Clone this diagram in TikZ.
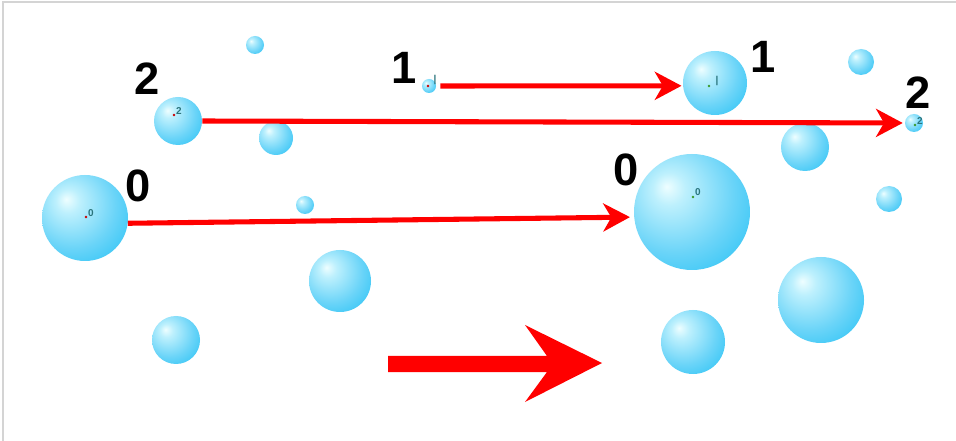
\documentclass[tikz,border=0pt]{standalone}
\usepackage{fontspec}
\setmainfont{Liberation Sans}
\usetikzlibrary{arrows.meta}
\definecolor{bubA}{HTML}{EEFEFF}
\definecolor{bubB}{HTML}{BDF0FD}
\definecolor{bubM}{HTML}{6AD4F8}
\definecolor{bubC}{HTML}{1ABEF4}
\definecolor{tinyc}{HTML}{2A747C}
\definecolor{dotgreen}{HTML}{3A9A2A}
\definecolor{framegray}{HTML}{D4D4D4}
\pgfdeclareradialshading{bubble}{\pgfpoint{-11bp}{11bp}}{color(0bp)=(bubA);color(7bp)=(bubB);color(25bp)=(bubM);color(44bp)=(bubC);color(72bp)=(bubC)}
\begin{document}
\begin{tikzpicture}[x=0.75pt,y=-0.75pt,
  bub/.style={circle, inner sep=0pt, minimum size=#1*1.5pt, shade, shading=bubble},
  big/.style={font=\fontsize{34}{34}\selectfont\bfseries, inner sep=0pt},
  tinylab/.style={font=\fontsize{7.5}{7.5}\selectfont\bfseries, text=tinyc, inner sep=0pt},
  dotred/.style={circle, fill=red!80!black, inner sep=0pt, minimum size=2pt},
  dotgrn/.style={circle, fill=dotgreen, inner sep=0pt, minimum size=2pt},
  flow/.style={draw=red, line width=3.8pt, -{Stealth[length=20pt,width=21pt,inset=6pt]}}]
\useasboundingbox (0,0) rectangle (956,441);
\fill[white] (0,0) rectangle (956,441);
\draw[framegray, line width=1.5pt] (2.5,441) -- (2.5,2.5) -- (956,2.5);
% bubbles
\node[bub=9]  (b1)  at (255,45) {};
\node[bub=7]  (b1L) at (429,86) {};
\node[bub=32] (b1R) at (715,83) {};
\node[bub=13] (b4)  at (861,62) {};
\node[bub=24] (b2L) at (178,121) {};
\node[bub=17] (b6)  at (276,138) {};
\node[bub=9]  (b2R) at (914,123) {};
\node[bub=24] (b8)  at (805,147) {};
\node[bub=43] (b0L) at (85,218) {};
\node[bub=9]  (b10) at (305,205) {};
\node[bub=58] (b0R) at (692,212) {};
\node[bub=13] (b12) at (889,199) {};
\node[bub=31] (b13) at (340,281) {};
\node[bub=43] (b14) at (821,300) {};
\node[bub=24] (b15) at (176,340) {};
\node[bub=32] (b16) at (693,342) {};
% tiny markers
\node[dotred] (d0L) at (86,217) {};
\node[tinylab] (t0L) at (91,213) {0};
\node[dotgrn] (d0R) at (693,197) {};
\node[tinylab] (t0R) at (698,192) {0};
\node[dotred] (d1L) at (428,86) {};
\node[tinylab] (t1L) at (435,80) {|};
\node[dotgrn] (d1R) at (709,86) {};
\node[tinylab] (t1R) at (717,81) {|};
\node[dotred] (d2L) at (174,115) {};
\node[tinylab] (t2L) at (179,111) {2};
\node[dotgrn] (d2R) at (915,125) {};
\node[tinylab] (t2R) at (920,121) {2};
% big labels
\node[big] (l2L) at (147,79) {2};
\node[big] (l1L) at (404,68) {1};
\node[big] (l1R) at (763,57) {1};
\node[big] (l2R) at (918,93) {2};
\node[big] (l0L) at (138,186) {0};
\node[big] (l0R) at (626,170) {0};
% arrows
\draw[flow, shorten <=3pt, shorten >=1pt] (b1L.east) -- (b1R.185);
\draw[flow, shorten >=1.5pt] (b2L.east) -- (b2R.west);
\draw[flow, shorten >=3pt] (b0L.-7) -- (b0R.185);
% big block arrow
\fill[red] (388,356) -- (547,356) -- (525,325) -- (602,363) -- (525,402) -- (547,372) -- (388,372) -- cycle;
\end{tikzpicture}
\end{document}
